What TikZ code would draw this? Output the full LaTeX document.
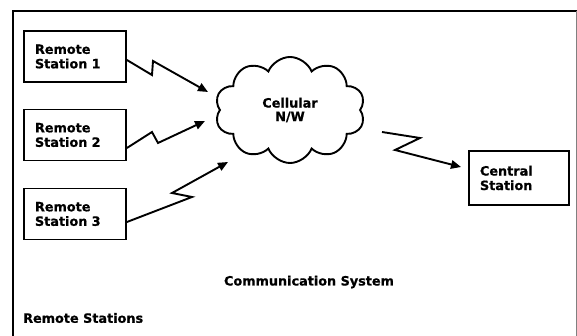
\documentclass[tikz,border=0pt]{standalone}
\usepackage{fontspec}
\setmainfont{DejaVu Sans}[BoldFeatures={FakeBold=0.8}]
\usetikzlibrary{shapes.symbols,arrows.meta}
\begin{document}
\begin{tikzpicture}[x=1pt,y=-1pt,
  lbl/.style={font=\fontsize{12.8}{15.5}\selectfont\bfseries},
  stbox/.style={draw,line width=1.8pt,minimum width=102pt,minimum height=51pt,
    text width=80pt,inner xsep=11pt,align=left,lbl},
  bolt/.style={line width=1.9pt,line join=miter,-{Triangle[length=10pt,width=8.5pt]}},
  frame/.style={line width=2pt}]
\useasboundingbox (0,0) rectangle (577,336);
\draw[frame] (13,336) -- (13,11) -- (577,11);
\draw[line width=1pt,gray] (576.5,11) -- (576.5,336);
\node[stbox] (rs1) at (75,56.5) {Remote\\[-1pt]Station 1};
\node[stbox] (rs2) at (75,135) {Remote\\[-1pt]Station 2};
\node[stbox] (rs3) at (75,214) {Remote\\[-1pt]Station 3};
\node[stbox,minimum width=100pt,minimum height=54pt,text width=78pt] (cs) at (519,178) {Central\\[-1pt]Station};
\node[cloud,draw,line width=1.9pt,cloud puffs=10,cloud puff arc=135,aspect=1.45,
  minimum width=150pt,minimum height=106pt,lbl,align=center] (cloud) at (290,110) {Cellular\\[-2pt]N/W};
\coordinate (t1) at (208,92);
\coordinate (t2) at (205,121);
\coordinate (t3) at (228,162);
\coordinate (t4) at (461,167);
\coordinate (s4) at (382,132);
\draw[bolt] ([yshift=-3.5pt]rs1.east) -- (152,75) -- (153,61) -- (t1);
\draw[bolt] ([yshift=-13pt]rs2.east) -- (152,132) -- (158,143) -- (t2);
\draw[bolt] ([yshift=-8pt]rs3.east) -- (192,197) -- (172,193) -- (t3);
\draw[bolt] (s4) -- (420,138) -- (395,150) -- (t4);
\node[lbl] (title) at (309,282) {Communication System};
\node[lbl,anchor=west,inner xsep=0pt] (rsl) at (23,318) {Remote Stations};
\end{tikzpicture}
\end{document}
